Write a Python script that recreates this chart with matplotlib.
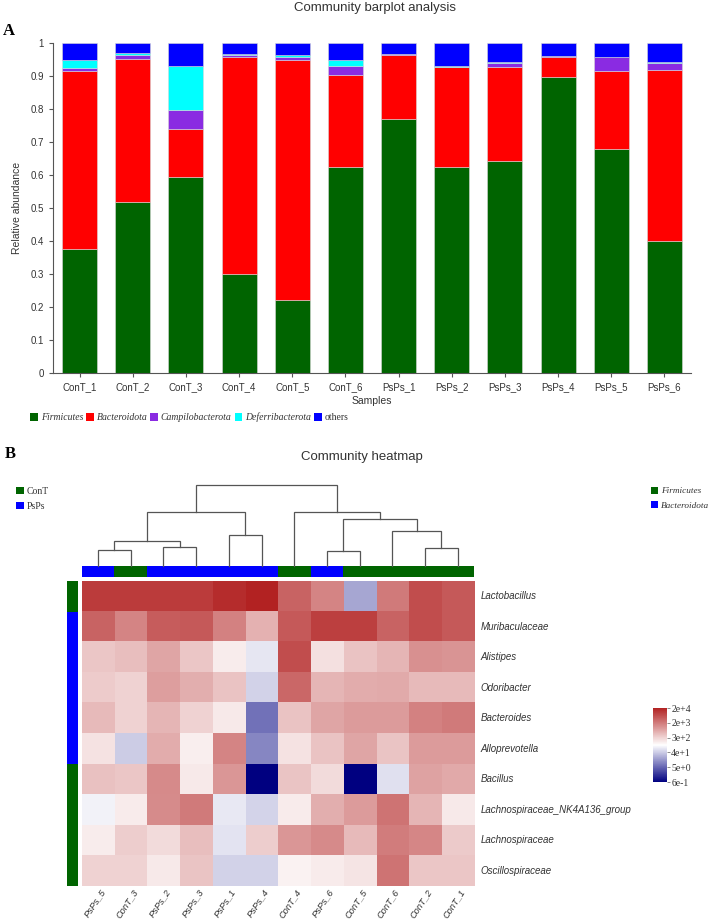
import numpy as np
import matplotlib
matplotlib.use('Agg')
import matplotlib.pyplot as plt
from matplotlib.colors import LinearSegmentedColormap, LogNorm
from matplotlib.patches import Patch

plt.rcParams['font.family'] = ['Liberation Sans', 'DejaVu Sans']

samples = ['ConT_1', 'ConT_2', 'ConT_3', 'ConT_4', 'ConT_5', 'ConT_6',
           'PsPs_1', 'PsPs_2', 'PsPs_3', 'PsPs_4', 'PsPs_5', 'PsPs_6']
phyla = ['Firmicutes', 'Bacteroidota', 'Campilobacterota', 'Deferribacterota', 'others']
phyla_colors = ['#006400', '#FF0000', '#8A2BE2', '#00FFFF', '#0000FF']
firmicutes = [0.376, 0.519, 0.594, 0.300, 0.222, 0.625, 0.771, 0.625, 0.643, 0.897, 0.680, 0.400]
bacteroidota = [0.540, 0.434, 0.146, 0.659, 0.726, 0.278, 0.194, 0.302, 0.285, 0.063, 0.236, 0.519]
campilobacterota = [0.010, 0.012, 0.059, 0.007, 0.012, 0.027, 0.003, 0.002, 0.013, 0.003, 0.041, 0.020]
deferribacterota = [0.023, 0.005, 0.131, 0.002, 0.004, 0.019, 0.000, 0.003, 0.003, 0.000, 0.000, 0.003]
others = [0.051, 0.030, 0.070, 0.032, 0.036, 0.051, 0.032, 0.068, 0.056, 0.037, 0.043, 0.058]
ytick_vals = [0, 0.1, 0.2, 0.3, 0.4, 0.5, 0.6, 0.7, 0.8, 0.9, 1]
ytick_labels = ['0', '0.1', '0.2', '0.3', '0.4', '0.5', '0.6', '0.7', '0.8', '0.9', '1']

# ---- data: heatmap ----
hm_cols = ['PsPs_5', 'ConT_3', 'PsPs_2', 'PsPs_3', 'PsPs_1', 'PsPs_4',
           'ConT_4', 'PsPs_6', 'ConT_5', 'ConT_6', 'ConT_2', 'ConT_1']
hm_col_group = ['PsPs', 'ConT', 'PsPs', 'PsPs', 'PsPs', 'PsPs',
                'ConT', 'PsPs', 'ConT', 'ConT', 'ConT', 'ConT']
genera = ['Lactobacillus', 'Muribaculaceae', 'Alistipes', 'Odoribacter', 'Bacteroides',
          'Alloprevotella', 'Bacillus', 'Lachnospiraceae_NK4A136_group',
          'Lachnospiraceae', 'Oscillospiraceae']
genus_phylum = ['Firmicutes', 'Bacteroidota', 'Bacteroidota', 'Bacteroidota', 'Bacteroidota',
                'Bacteroidota', 'Firmicutes', 'Firmicutes', 'Firmicutes', 'Firmicutes']
lactobacillus = [10700, 10700, 10700, 10700, 15400, 20000, 4190, 1920, 18, 2490, 7060, 5440]
muribaculaceae = [4190, 1920, 4900, 5440, 2130, 678, 5440, 9640, 9640, 4190, 7060, 5440]
alistipes = [403, 496, 880, 403, 166, 65, 7060, 227, 447, 611, 1480, 1335]
odoribacter = [363, 310, 1030, 714, 447, 43, 3780, 611, 752, 792, 551, 551]
bacteroides = [551, 310, 611, 310, 184, 6.2, 447, 880, 1140, 1140, 2130, 2490]
alloprevotella = [215, 39, 752, 158, 1920, 9.5, 215, 447, 880, 424, 1140, 1140]
bacillus = [471, 403, 1730, 184, 1270, 0.6, 424, 252, 0.6, 59, 975, 835]
lachno_nk4a136 = [85, 175, 1640, 2490, 69, 45, 175, 714, 1140, 2910, 611, 184]
lachnospiraceae = [166, 345, 252, 496, 62, 345, 1270, 1730, 551, 2360, 1820, 382]
oscillospiraceae = [310, 310, 184, 424, 43, 43, 150, 175, 205, 2910, 403, 403]

# sample dendrogram merges: (child_a, child_b, height); leaves are 0..11
merges = [(0, 1, 0.48), (2, 3, 0.57), (12, 13, 0.75), (4, 5, 0.93), (14, 15, 1.62),
          (7, 8, 0.45), (10, 11, 0.54), (9, 18, 1.07), (17, 19, 1.40), (6, 20, 1.62),
          (16, 21, 2.43)]

group_colors = {'ConT': '#006400', 'PsPs': '#0000FF'}
phylum_colors = {'Firmicutes': '#006400', 'Bacteroidota': '#0000FF'}

W, H = 708, 921
fig = plt.figure(figsize=(W / 100, H / 100), dpi=100)

def box(x0, y0, x1, y1):
    # pixel box -> figure fraction rect
    return [x0 / W, 1 - y1 / H, (x1 - x0) / W, (y1 - y0) / H]

txt = '#333333'

# ================= A: stacked barplot =================
ax = fig.add_axes(box(53, 43.3, 691, 373.3))
x = np.arange(len(samples))
series = [firmicutes, bacteroidota, campilobacterota, deferribacterota, others]
bottom = np.zeros(len(samples))
for vals, col in zip(series, phyla_colors):
    ax.bar(x, vals, bottom=bottom, width=0.66, color=col, edgecolor='#d8d8d8', linewidth=0.4)
    bottom += np.array(vals)
ax.set_xlim(-0.5, len(samples) - 0.5)
ax.set_ylim(0, 1)
ax.set_yticks(ytick_vals)
ax.set_yticklabels(ytick_labels)
ax.set_xticks(x)
ax.set_xticklabels(samples)
for s in ['top', 'right']:
    ax.spines[s].set_visible(False)
for s in ['left', 'bottom']:
    ax.spines[s].set_color('#555555')
    ax.spines[s].set_linewidth(0.8)
ax.tick_params(colors='#555555', labelcolor=txt, labelsize=7, length=3, width=0.8)
ax.set_ylabel('Relative abundance', fontsize=7.5, color=txt, labelpad=6)
ax.set_xlabel('Samples', fontsize=7.5, color=txt, labelpad=3)
fig.text(375 / W, 1 - 7.5 / H, 'Community barplot analysis', ha='center', va='center',
         fontsize=9.5, color=txt)
fig.text(3 / W, 1 - 31 / H, 'A', ha='left', va='center', fontsize=12, fontweight='bold',
         family='Liberation Serif')

handles = [Patch(facecolor=c, edgecolor='none') for c in phyla_colors]
leg = fig.legend(handles, phyla, loc='center left', bbox_to_anchor=(25 / W, 1 - 417.5 / H),
                 ncol=5, frameon=False, handlelength=0.8, handleheight=0.8,
                 handletextpad=0.3, columnspacing=0.3, borderpad=0,
                 prop={'family': 'Liberation Serif', 'size': 7})
for t in leg.get_texts():
    t.set_color(txt)
    if t.get_text() != 'others':
        t.set_style('italic')

# ================= B: heatmap =================
fig.text(5 / W, 1 - 454 / H, 'B', ha='left', va='center', fontsize=12, fontweight='bold',
         family='Liberation Serif')
fig.text(362 / W, 1 - 457 / H, 'Community heatmap', ha='center', va='center',
         fontsize=9.5, color=txt)

hx0, hx1, hy0, hy1 = 81.7, 474, 581, 886
data = np.array([lactobacillus, muribaculaceae, alistipes, odoribacter, bacteroides,
                 alloprevotella, bacillus, lachno_nk4a136, lachnospiraceae, oscillospiraceae])
cmap = LinearSegmentedColormap.from_list('nwf', ['#000080', '#FFFFFF', '#B22222'])
norm = LogNorm(vmin=0.6, vmax=2e4)

axh = fig.add_axes(box(hx0, hy0, hx1, hy1))
im = axh.imshow(data, cmap=cmap, norm=norm, aspect='auto', interpolation='nearest')
axh.set_xticks([])
axh.set_yticks([])
for s in axh.spines.values():
    s.set_visible(False)
for i, g in enumerate(genera):
    axh.text(len(hm_cols) - 0.5 + 0.2, i, g, ha='left', va='center', fontsize=7,
             style='italic', color=txt)
for j, c in enumerate(hm_cols):
    axh.text(j + 0.05, len(genera) - 0.5 + 0.06, c, ha='right', va='top', rotation=56,
             rotation_mode='anchor', fontsize=6.7, style='italic', color=txt)

# column group bar
axg = fig.add_axes(box(hx0, 566.3, hx1, 577.3))
axg.bar(np.arange(len(hm_cols)), 1, width=1, color=[group_colors[g] for g in hm_col_group])
axg.set_xlim(-0.5, len(hm_cols) - 0.5)
axg.set_ylim(0, 1)
axg.axis('off')

# row phylum bar
axr = fig.add_axes(box(66.7, hy0, 78.3, hy1))
axr.barh(np.arange(len(genera)), 1, height=1, color=[phylum_colors[p] for p in genus_phylum])
axr.set_ylim(len(genera) - 0.5, -0.5)
axr.set_xlim(0, 1)
axr.axis('off')

# dendrogram
axd = fig.add_axes(box(hx0, 485, hx1, 566.3))
pos = {i: (i, 0.0) for i in range(len(hm_cols))}
for k, (a, b, h) in enumerate(merges):
    xa, ha_ = pos[a]
    xb, hb = pos[b]
    axd.plot([xa, xa, xb, xb], [ha_, h, h, hb], color='#555555', lw=0.9,
             solid_joinstyle='miter', clip_on=False)
    pos[len(hm_cols) + k] = ((xa + xb) / 2, h)
axd.set_xlim(-0.5, len(hm_cols) - 0.5)
axd.set_ylim(0, max(m[2] for m in merges))
axd.axis('off')

# group legends
lg1 = fig.legend([Patch(facecolor=group_colors[g]) for g in ['ConT', 'PsPs']], ['ConT', 'PsPs'],
                 loc='upper left', bbox_to_anchor=(11 / W, 1 - 482 / H), frameon=False,
                 handlelength=0.8, handleheight=0.8, handletextpad=0.3, labelspacing=0.6,
                 borderpad=0, prop={'family': 'Liberation Serif', 'size': 7})
lg2 = fig.legend([Patch(facecolor=phylum_colors[p]) for p in ['Firmicutes', 'Bacteroidota']],
                 ['Firmicutes', 'Bacteroidota'], loc='upper left',
                 bbox_to_anchor=(646 / W, 1 - 482 / H), frameon=False,
                 handlelength=0.8, handleheight=0.8, handletextpad=0.3, labelspacing=0.6,
                 borderpad=0, prop={'family': 'Liberation Serif', 'size': 6.7, 'style': 'italic'})
for lg in (lg1, lg2):
    for t in lg.get_texts():
        t.set_color(txt)

# colorbar
cax = fig.add_axes(box(653, 708, 667, 782))
cticks = np.geomspace(0.6, 2e4, 6)
cb = fig.colorbar(im, cax=cax, ticks=cticks)
cb.ax.minorticks_off()
cb.set_ticks(cticks)
cb.set_ticklabels([f'{v:.0e}'.replace('e+0', 'e+').replace('e-0', 'e-') for v in cticks])
cb.outline.set_visible(False)
cb.ax.tick_params(labelsize=7, length=2, width=0.6, colors='#777777', labelcolor=txt, pad=1)
for t in cb.ax.get_yticklabels():
    t.set_family('Liberation Serif')

fig.savefig('out.png', dpi=100)
